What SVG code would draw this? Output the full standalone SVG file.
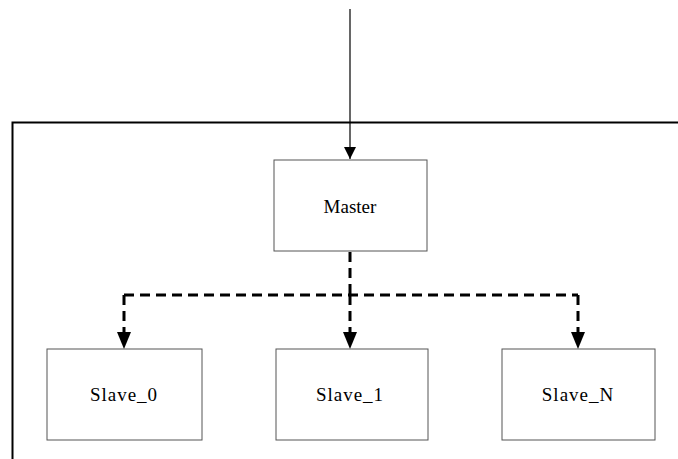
<svg xmlns="http://www.w3.org/2000/svg" width="678" height="459" viewBox="0 0 678 459">
<style>
.box{fill:#fff;stroke:#555;stroke-width:1}
.lbl{font-family:"Liberation Serif","DejaVu Serif",serif;font-size:19px;fill:#000;text-anchor:middle}
.sl{letter-spacing:1px}
.dash{fill:none;stroke:#000;stroke-width:3;stroke-dasharray:10,6}
</style>
<defs>
<marker id="ah" markerUnits="userSpaceOnUse" markerWidth="14" markerHeight="18" refX="12" refY="6" orient="auto">
<path d="M0,0 L12,6 L0,12 Z" fill="#000"/>
</marker>
</defs>
<rect width="678" height="459" fill="#fff"/>
<path d="M12.5,459 V122.5 H678" fill="none" stroke="#000" stroke-width="2"/>
<g id="connectors">
<line x1="350" y1="9" x2="350" y2="159" stroke="#000" stroke-width="1.2" marker-end="url(#ah)"/>
<path class="dash" d="M350,252 V295"/>
<path class="dash" d="M124,295 H578"/>
<path class="dash" d="M124,295 V335"/>
<path class="dash" d="M350,295 V335"/>
<path class="dash" d="M578,295 V335"/>
<path d="M117,332 L124,349 L131,332 Z" fill="#000"/>
<path d="M343,332 L350,349 L357,332 Z" fill="#000"/>
<path d="M571,332 L578,349 L585,332 Z" fill="#000"/>
</g>
<g id="master"><rect class="box" x="274" y="160" width="153" height="91"/><text class="lbl" x="350" y="213">Master</text></g>
<g id="slave0"><rect class="box" x="47" y="349" width="155" height="91"/><text class="lbl sl" x="124" y="401">Slave_0</text></g>
<g id="slave1"><rect class="box" x="276" y="349" width="152" height="91"/><text class="lbl sl" x="350" y="401">Slave_1</text></g>
<g id="slaveN"><rect class="box" x="502" y="349" width="153" height="91"/><text class="lbl sl" x="578" y="401">Slave_N</text></g>
</svg>
